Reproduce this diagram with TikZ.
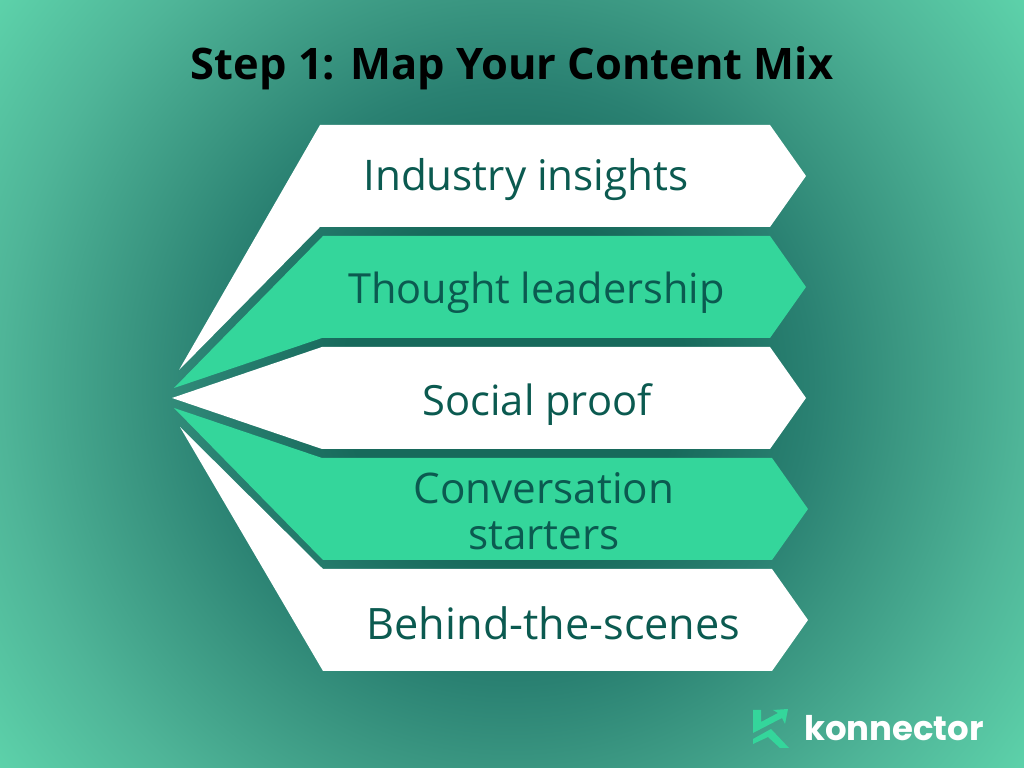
\documentclass[tikz,border=0pt]{standalone}
\usepackage{fontspec}
\setmainfont{Open Sans}
\newfontfamily\logofont{Poppins}
\usetikzlibrary{positioning}
\definecolor{glowmid}{HTML}{17695B}
\definecolor{glowa}{HTML}{2A8172}
\definecolor{glowb}{HTML}{3A9681}
\definecolor{glowc}{HTML}{4FB598}
\definecolor{glowedge}{HTML}{5DD2AA}
\definecolor{mintfill}{HTML}{34D69B}
\definecolor{labelteal}{HTML}{0B5A50}
\pgfdeclareradialshading{bgglow}{\pgfpoint{0bp}{0bp}}{%
  color(0bp)=(glowmid);
  color(48bp)=(glowmid);
  color(85bp)=(glowa);
  color(109bp)=(glowb);
  color(145bp)=(glowc);
  color(182bp)=(glowedge)}
\tikzset{
  arrowwhite/.style={fill=white},
  arrowmint/.style={fill=mintfill},
  mixlabel/.style={text=labelteal, font=\fontsize{#1}{#1}\selectfont, inner sep=0pt, anchor=base},
  mixlabel/.default=12,
  logomark/.style={fill=mintfill}
}
\begin{document}
\begin{tikzpicture}[x=0.01cm, y=-0.01cm]
    \useasboundingbox (0,0) rectangle (1024,768);
    \clip (0,0) rectangle (1024,768);
    \node[inner sep=0pt] (glow) at (512,384) {\pgfuseshading{bgglow}};
    % arrows
    \fill[arrowwhite] (320,125) -- (770,125) -- (806,176) -- (770,227) -- (320,227) -- (179,370) -- cycle;
    \fill[arrowmint] (323,236) -- (770,236) -- (806,287) -- (770,338) -- (322,338) -- (174,388) -- cycle;
    \fill[arrowwhite] (322,347) -- (770,347) -- (806,398) -- (770,449) -- (322,449) -- (172,398) -- cycle;
    \fill[arrowmint] (322,458) -- (772,458) -- (808,509) -- (772,560) -- (323,560) -- (174,408) -- cycle;
    \fill[arrowwhite] (323,569) -- (772,569) -- (808,620) -- (772,671) -- (323,671) -- (180,427) -- cycle;
    % labels
    \node[font=\bfseries\fontsize{12.35}{12.35}\selectfont, inner sep=0pt, anchor=base] (title) at (512,80) {Step 1: Map Your Content Mix};
    \node[mixlabel=12] (insights) at (526,191) {Industry insights};
    \node[mixlabel=11.8] (leadership) at (536.5,304) {Thought leadership};
    \node[mixlabel=11.85] (proof) at (537,416) {Social proof};
    \node[mixlabel] (conversation) at (544,504) {Conversation};
    \node[mixlabel] (starters) at (544,550) {starters};
    \node[mixlabel=12.3] (scenes) at (553.5,640) {Behind-the-scenes};
    % logo
    \fill[logomark] (753,710) -- (761,710) -- (761,722) -- (778,713) -- (773,710) -- (788,709) -- (785,724) -- (782,718) -- (753,733) -- cycle;
    \fill[logomark] (753,739) -- (771,729) -- (789,748) -- (780,748) -- (768,737) -- (753,744) -- cycle;
    \node[text=white, font=\logofont\bfseries\fontsize{9.65}{9.65}\selectfont, inner sep=0pt] (brand) at (894,728) {konnector};
  \end{tikzpicture}
\end{document}
